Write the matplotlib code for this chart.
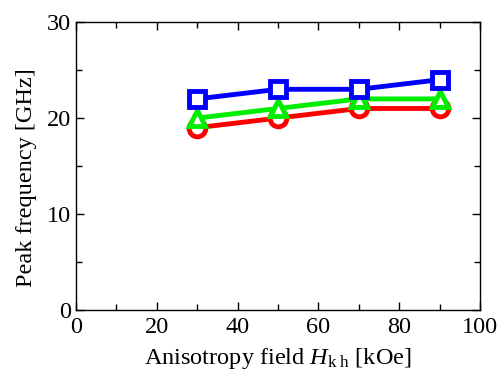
import matplotlib.pyplot as plt
from matplotlib.ticker import MultipleLocator

plt.rcParams["font.family"] = ["Liberation Serif", "DejaVu Serif"]
plt.rcParams["mathtext.fontset"] = "custom"
plt.rcParams["mathtext.it"] = "Liberation Serif:italic"
plt.rcParams["mathtext.rm"] = "Liberation Serif"

field = [30, 50, 70, 90]
freq_blue = [22, 23, 23, 24]
freq_green = [20, 21, 22, 22]
freq_red = [19, 20, 21, 21]

fig = plt.figure(figsize=(5, 3.69), dpi=100)
ax = fig.add_axes([0.152, 0.160, 0.808, 0.780])

style = dict(lw=3.5, ms=12, mew=3.5, mfc="white", clip_on=False)
ax.plot(field, freq_red, color="red", marker="o", **style)
ax.plot(field, freq_green, color="#00ee00", marker="^", **style)
ax.plot(field, freq_blue, color="blue", marker="s", **style)

ax.set_xlim(0, 100)
ax.set_ylim(0, 30)
ax.xaxis.set_major_locator(MultipleLocator(20))
ax.xaxis.set_minor_locator(MultipleLocator(10))
ax.yaxis.set_major_locator(MultipleLocator(10))
ax.yaxis.set_minor_locator(MultipleLocator(5))
ax.tick_params(which="both", direction="in", top=True, right=True, labelsize=17.5, width=1)
ax.tick_params(axis="x", pad=5)
ax.tick_params(which="major", length=6)
ax.tick_params(which="minor", length=4)
for s in ax.spines.values():
    s.set_linewidth(1)

ax.set_xlabel(r"Anisotropy field $H_{\mathrm{k\ h}}$ [kOe]", fontsize=17.5, labelpad=6)
ax.set_ylabel("Peak frequency [GHz]", fontsize=17.5)
ax.yaxis.set_label_coords(-0.097, 0.46)

fig.savefig("out.png", dpi=100)
